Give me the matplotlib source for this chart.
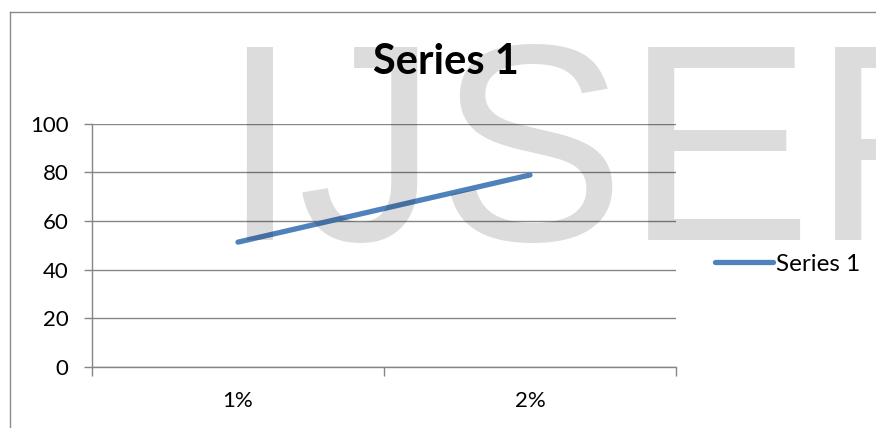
import matplotlib
matplotlib.use("Agg")
import matplotlib.pyplot as plt
from matplotlib import font_manager as fm
from matplotlib.lines import Line2D

categorias = ["1%", "2%"]
valores = [51.3, 78.9]
serie = "Series 1"
yticks = [0, 20, 40, 60, 80, 100]

W, H = 876, 428
fig = plt.figure(figsize=(W / 100, H / 100), dpi=100)
plt.rcParams["font.family"] = ["Lato", "DejaVu Sans"]

# area del grafico en pixeles
x0, x1 = 92, 676
y0, y1 = 367, 123.6
ax = fig.add_axes([x0 / W, 1 - y0 / H, (x1 - x0) / W, (y0 - y1) / H])

gris = "#868686"
azul = "#4f81bd"

xs = [i + 0.5 for i in range(len(categorias))]
ax.plot(xs, valores, color=azul, lw=3.8, solid_capstyle="round", label=serie, zorder=3)

ax.set_xlim(0, len(categorias))
ax.set_ylim(0, 100)
ax.set_yticks(yticks)
ax.set_yticklabels([str(v) for v in yticks])
ax.set_xticks(range(len(categorias) + 1))
ax.set_xticklabels([])
ax.set_xticks(xs, minor=True)
ax.set_xticklabels(categorias, minor=True)
ax.tick_params(axis="x", which="minor", length=0, pad=17, labelsize=16)
ax.tick_params(axis="x", which="major", length=6.5, width=1, color=gris, direction="out")
ax.tick_params(axis="y", length=5.8, width=1, color=gris, direction="out", pad=11, labelsize=16)
ax.grid(axis="y", color=gris, lw=1, zorder=1)
ax.set_axisbelow(True)
for s in ["top", "right"]:
    ax.spines[s].set_visible(False)
for s in ["left", "bottom"]:
    ax.spines[s].set_color(gris)
    ax.spines[s].set_linewidth(1)

fig.text(446 / W, 1 - 62 / H, serie, ha="center", va="center", fontsize=30, fontweight="bold")

fig.legend(loc="center left", bbox_to_anchor=(715 / W, 1 - 264 / H), frameon=False,
           borderpad=0, borderaxespad=0, handlelength=2.4, handletextpad=0.1, fontsize=17.5)

# marco
fig.add_artist(Line2D([9.5 / W, 9.5 / W], [0, 1 - 11.5 / H], color="#8a8a8a", lw=1))
fig.add_artist(Line2D([9.5 / W, 1], [1 - 11.5 / H, 1 - 11.5 / H], color="#8a8a8a", lw=1))

# marca de agua, semitransparente por encima de todo
ruta = fm.findfont(fm.FontProperties(family="Liberation Sans"), fallback_to_default=False)
fp = fm.FontProperties(fname=ruta, size=202)
fig.text(220 / W, 1 - 240 / H, "IJSER", ha="left", va="baseline", fontproperties=fp,
         color="black", alpha=0.137, zorder=10)

fig.savefig("out.png", dpi=100)
